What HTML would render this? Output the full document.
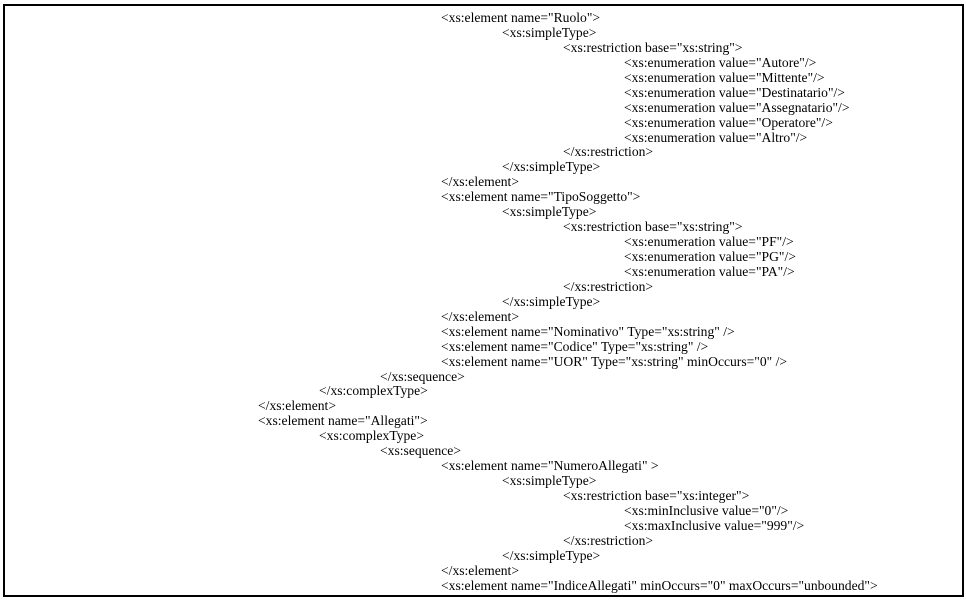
<!DOCTYPE html>
<html><head><meta charset="utf-8"><style>
html,body{margin:0;padding:0;background:#fff;}
body{width:966px;height:600px;position:relative;overflow:hidden;}
.box{position:absolute;left:3px;top:4px;width:957px;height:589px;border:2px solid #000;}
.c{position:absolute;left:0;top:11px;font-family:"Liberation Serif",serif;font-size:13.6px;line-height:14.95px;color:#000;white-space:nowrap;}
.c div{height:14.95px;}
.l0{padding-left:258px}.l1{padding-left:319px}.l2{padding-left:380px}.l3{padding-left:441px}.l4{padding-left:502px}.l5{padding-left:563px}.l6{padding-left:624px}
</style></head><body>
<div class="box"></div>
<div class="c">
<div class="l3">&lt;xs:element name="Ruolo"&gt;</div>
<div class="l4">&lt;xs:simpleType&gt;</div>
<div class="l5">&lt;xs:restriction base="xs:string"&gt;</div>
<div class="l6">&lt;xs:enumeration value="Autore"/&gt;</div>
<div class="l6">&lt;xs:enumeration value="Mittente"/&gt;</div>
<div class="l6">&lt;xs:enumeration value="Destinatario"/&gt;</div>
<div class="l6">&lt;xs:enumeration value="Assegnatario"/&gt;</div>
<div class="l6">&lt;xs:enumeration value="Operatore"/&gt;</div>
<div class="l6">&lt;xs:enumeration value="Altro"/&gt;</div>
<div class="l5">&lt;/xs:restriction&gt;</div>
<div class="l4">&lt;/xs:simpleType&gt;</div>
<div class="l3">&lt;/xs:element&gt;</div>
<div class="l3">&lt;xs:element name="TipoSoggetto"&gt;</div>
<div class="l4">&lt;xs:simpleType&gt;</div>
<div class="l5">&lt;xs:restriction base="xs:string"&gt;</div>
<div class="l6">&lt;xs:enumeration value="PF"/&gt;</div>
<div class="l6">&lt;xs:enumeration value="PG"/&gt;</div>
<div class="l6">&lt;xs:enumeration value="PA"/&gt;</div>
<div class="l5">&lt;/xs:restriction&gt;</div>
<div class="l4">&lt;/xs:simpleType&gt;</div>
<div class="l3">&lt;/xs:element&gt;</div>
<div class="l3">&lt;xs:element name="Nominativo" Type="xs:string" /&gt;</div>
<div class="l3">&lt;xs:element name="Codice" Type="xs:string" /&gt;</div>
<div class="l3">&lt;xs:element name="UOR" Type="xs:string" minOccurs="0" /&gt;</div>
<div class="l2">&lt;/xs:sequence&gt;</div>
<div class="l1">&lt;/xs:complexType&gt;</div>
<div class="l0">&lt;/xs:element&gt;</div>
<div class="l0">&lt;xs:element name="Allegati"&gt;</div>
<div class="l1">&lt;xs:complexType&gt;</div>
<div class="l2">&lt;xs:sequence&gt;</div>
<div class="l3">&lt;xs:element name="NumeroAllegati" &gt;</div>
<div class="l4">&lt;xs:simpleType&gt;</div>
<div class="l5">&lt;xs:restriction base="xs:integer"&gt;</div>
<div class="l6">&lt;xs:minInclusive value="0"/&gt;</div>
<div class="l6">&lt;xs:maxInclusive value="999"/&gt;</div>
<div class="l5">&lt;/xs:restriction&gt;</div>
<div class="l4">&lt;/xs:simpleType&gt;</div>
<div class="l3">&lt;/xs:element&gt;</div>
<div class="l3">&lt;xs:element name="IndiceAllegati" minOccurs="0" maxOccurs="unbounded"&gt;</div>
</div>
</body></html>
